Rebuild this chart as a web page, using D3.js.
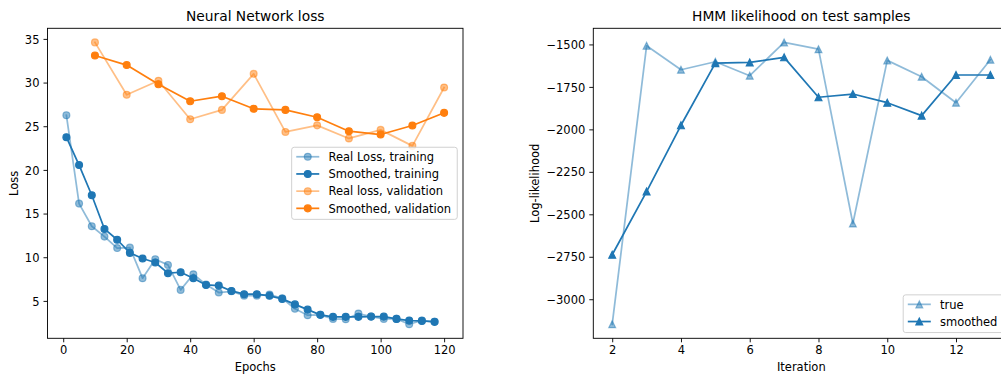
<!DOCTYPE html>
<html>
<head>
<meta charset="utf-8">
<script src="https://cdn.jsdelivr.net/npm/d3@7"></script>
<style>
  html, body { margin: 0; padding: 0; background: #fff; }
  svg { display: block; font-family: "DejaVu Sans", sans-serif; }
</style>
</head>
<body>
<svg id="chart" width="1001" height="374"></svg>
<script>
// ---------- Data ----------
const trainEpochs = [1,5,9,13,17,21,25,29,33,37,41,45,49,53,57,61,65,69,73,77,81,85,89,93,97,101,105,109,113,117];
const trainReal = [26.26,16.14,13.55,12.36,11.05,11.1,7.6,9.77,9.12,6.26,8.05,6.87,5.95,6.1,5.6,5.6,5.73,5.3,4.1,3.36,3.4,2.94,2.9,3.55,3.2,2.94,2.94,2.33,2.75,2.6];
const trainSmooth = [23.74,20.55,17.1,13.24,12.0,10.5,9.85,9.4,8.17,8.28,7.6,6.83,6.75,6.14,5.77,5.77,5.58,5.23,4.6,4.0,3.4,3.17,3.17,3.17,3.2,3.2,2.94,2.75,2.71,2.6];
const valEpochs = [10,20,30,40,50,60,70,80,90,100,110,120];
const valReal = [34.6,28.6,30.2,25.8,26.87,31.0,24.35,25.1,23.6,24.58,22.75,29.43];
const valSmooth = [33.1,32.0,29.8,27.86,28.44,27.0,26.87,26.03,24.43,24.05,25.08,26.53];

const hmmIter = [2,3,4,5,6,7,8,9,10,11,12,13];
const hmmTrue = [-3147,-1508,-1649,-1602,-1684,-1488,-1528,-2554,-1594,-1690,-1843,-1590];
const hmmSmooth = [-2738,-2366,-1976,-1610,-1606,-1576,-1811,-1792,-1843,-1919,-1680,-1680];

const lossXTicks = [0,20,40,60,80,100,120];
const lossYTicks = [5,10,15,20,25,30,35];
const hmmXTicks = [2,4,6,8,10,12];
const hmmYTicks = [-3000,-2750,-2500,-2250,-2000,-1750,-1500];

const lossLegend = ["Real Loss, training","Smoothed, training","Real loss, validation","Smoothed, validation"];
const hmmLegend = ["true","smoothed"];

// ---------- Style ----------
const BLUE = "#1f77b4", ORANGE = "#ff7f0e";
const FS = 11.5, TITLE_FS = 13.8;
const LW = 1.73, MR = 3.45, MEW = 1.15, SPINE = 0.92, TICK = 4, PAD = 4;

const svg = d3.select("#chart");

function margins(vals) {
  const lo = d3.min(vals), hi = d3.max(vals), m = (hi - lo) * 0.05;
  return [lo - m, hi + m];
}

function makeAxes(box, xDom, yDom, xTicks, yTicks, yFmt) {
  const g = svg.append("g");
  const x = d3.scaleLinear().domain(xDom).range([box.l, box.r]);
  const y = d3.scaleLinear().domain(yDom).range([box.b, box.t]);
  return {g, x, y, box, xTicks, yTicks, yFmt};
}

function drawFrame(ax, title, xlabel, ylabel, ylabelX) {
  const {g, x, y, box} = ax;
  const xa = g.append("g").attr("transform", `translate(0,${box.b})`)
    .call(d3.axisBottom(x).tickValues(ax.xTicks).tickFormat(d3.format("d"))
      .tickSizeInner(TICK).tickSizeOuter(0).tickPadding(PAD));
  const ya = g.append("g").attr("transform", `translate(${box.l},0)`)
    .call(d3.axisLeft(y).tickValues(ax.yTicks).tickFormat(ax.yFmt)
      .tickSizeInner(TICK).tickSizeOuter(0).tickPadding(PAD));
  [xa, ya].forEach(a => {
    a.select(".domain").remove();
    a.selectAll("line").attr("stroke", "#000").attr("stroke-width", SPINE);
    a.selectAll("text").attr("fill", "#000").attr("font-size", FS)
      .attr("font-family", "DejaVu Sans, sans-serif");
  });
  ya.selectAll("text").attr("dy", "0.36em");
  g.append("rect").attr("x", box.l).attr("y", box.t)
    .attr("width", box.r - box.l).attr("height", box.b - box.t)
    .attr("fill", "none").attr("stroke", "#000").attr("stroke-width", SPINE);
  g.append("text").attr("x", (box.l + box.r) / 2).attr("y", box.t - 6.9)
    .attr("text-anchor", "middle").attr("font-size", TITLE_FS).attr("fill", "#000").text(title);
  g.append("text").attr("x", (box.l + box.r) / 2).attr("y", 371)
    .attr("text-anchor", "middle").attr("font-size", FS).attr("fill", "#000").text(xlabel);
  g.append("text").attr("transform", `translate(${ylabelX},${(box.t + box.b) / 2}) rotate(-90)`)
    .attr("text-anchor", "middle").attr("font-size", FS).attr("fill", "#000").text(ylabel);
}

function circleMarker(sel) {
  return sel.append("circle").attr("r", MR);
}
function triMarker(sel) {
  const s = MR;
  return sel.append("path").attr("d", `M0,${-s}L${-s},${s}L${s},${s}Z`);
}

function drawSeries(ax, xs, ys, color, alpha, marker) {
  const {g, x, y} = ax;
  const pts = xs.map((d, i) => [d, ys[i]]);
  const line = d3.line().x(d => x(d[0])).y(d => y(d[1]));
  const sg = g.append("g");
  sg.append("path").datum(pts).attr("d", line).attr("fill", "none")
    .attr("stroke", color).attr("stroke-width", LW).attr("stroke-opacity", alpha)
    .attr("stroke-linejoin", "round").attr("stroke-linecap", "square");
  sg.selectAll("g.m").data(pts).join("g").attr("class", "m")
    .attr("transform", d => `translate(${x(d[0])},${y(d[1])})`)
    .each(function() {
      marker(d3.select(this)).attr("fill", color).attr("fill-opacity", alpha)
        .attr("stroke", color).attr("stroke-opacity", alpha).attr("stroke-width", MEW);
    });
}

function drawLegend(ax, labels, colors, alphas, marker, anchor) {
  const {g, box} = ax;
  const lg = g.append("g");
  const rowH = 17.2;
  const tmp = lg.append("g");
  const widths = labels.map(l => {
    const t = tmp.append("text").attr("font-size", FS).text(l);
    const w = t.node().getComputedTextLength();
    return w;
  });
  tmp.remove();
  const bw = 4.6 * 2 + 23 + 9.2 + d3.max(widths) + 1.5;
  const bh = 9.5 + (labels.length - 1) * rowH + 11;
  const right = box.r - 5.75;
  const left = right - bw;
  let top;
  if (anchor === "center right") top = (box.t + box.b) / 2 - bh / 2;
  else top = box.b - 5.75 - bh;
  lg.append("rect").attr("x", left).attr("y", top).attr("width", bw).attr("height", bh)
    .attr("rx", 2.5).attr("fill", "#fff").attr("fill-opacity", 0.8)
    .attr("stroke", "#cccccc").attr("stroke-width", 0.9);
  labels.forEach((lab, i) => {
    const cy = top + 9.5 + i * rowH;
    const x0 = left + 4.6, x1 = x0 + 23;
    lg.append("line").attr("x1", x0).attr("x2", x1).attr("y1", cy).attr("y2", cy)
      .attr("stroke", colors[i]).attr("stroke-opacity", alphas[i]).attr("stroke-width", LW);
    const mg = lg.append("g").attr("transform", `translate(${(x0 + x1) / 2},${cy})`);
    marker(mg).attr("fill", colors[i]).attr("fill-opacity", alphas[i])
      .attr("stroke", colors[i]).attr("stroke-opacity", alphas[i]).attr("stroke-width", MEW);
    lg.append("text").attr("x", x1 + 9.2).attr("y", cy + 4.2).attr("font-size", FS)
      .attr("fill", "#000").text(lab);
  });
}

// ---------- Left chart ----------
const axL = makeAxes({l: 47.5, r: 463, t: 28.3, b: 338.3},
  margins(trainEpochs.concat(valEpochs)),
  margins(trainReal.concat(trainSmooth, valReal, valSmooth)),
  lossXTicks, lossYTicks, d3.format("d"));
drawSeries(axL, trainEpochs, trainReal, BLUE, 0.5, circleMarker);
drawSeries(axL, trainEpochs, trainSmooth, BLUE, 1, circleMarker);
drawSeries(axL, valEpochs, valReal, ORANGE, 0.5, circleMarker);
drawSeries(axL, valEpochs, valSmooth, ORANGE, 1, circleMarker);
drawFrame(axL, "Neural Network loss", "Epochs", "Loss", 17.6);
drawLegend(axL, lossLegend, [BLUE, BLUE, ORANGE, ORANGE], [0.5, 1, 0.5, 1], circleMarker, "center right");

// ---------- Right chart ----------
const axR = makeAxes({l: 593.3, r: 1009.3, t: 28.3, b: 338.3},
  margins(hmmIter),
  margins(hmmTrue.concat(hmmSmooth)),
  hmmXTicks, hmmYTicks, d3.format("d"));
drawSeries(axR, hmmIter, hmmTrue, BLUE, 0.5, triMarker);
drawSeries(axR, hmmIter, hmmSmooth, BLUE, 1, triMarker);
drawFrame(axR, "HMM likelihood on test samples", "Iteration", "Log-likelihood", 539.3);
drawLegend(axR, hmmLegend, [BLUE, BLUE], [0.5, 1], triMarker, "lower right");
</script>
</body>
</html>
